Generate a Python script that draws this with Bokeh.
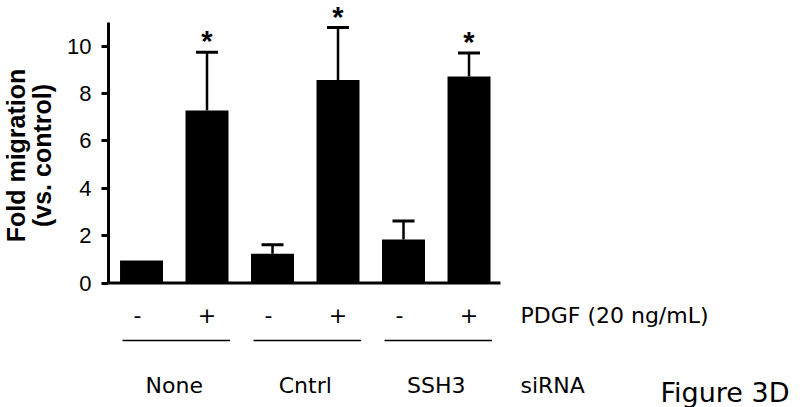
import math
from bokeh.plotting import figure
from bokeh.models import Range1d, FixedTicker
from bokeh.core.properties import value
from bokeh.embed import file_html
from bokeh.resources import INLINE

# ---- data ----
sirna_groups = ["None", "Cntrl", "SSH3"]
pdgf_labels = ["-", "+", "-", "+", "-", "+"]
fold_migration = [0.95, 7.28, 1.23, 8.57, 1.84, 8.71]
sem_upper = [0.0, 2.46, 0.38, 2.21, 0.78, 0.99]
significant = [False, True, False, True, False, True]
y_ticks = [0, 2, 4, 6, 8, 10]
y_title = ["Fold migration", "(vs. control)"]
pdgf_title = "PDGF (20 ng/mL)"
sirna_title = "siRNA"
figure_tag = "Figure 3D"

xs = list(range(len(fold_migration)))
err_top = [v + e for v, e in zip(fold_migration, sem_upper)]

x_start, x_end = -0.504, 10.061
p = figure(width=800, height=407, output_backend="svg", toolbar_location=None,
           x_range=Range1d(x_start, x_end), y_range=Range1d(-5.253, 11.920),
           x_axis_location=None, min_border=0, min_border_left=108)
p.outline_line_color = None
p.grid.visible = False
p.background_fill_color = "white"
p.border_fill_color = "white"

ax = p.yaxis[0]
ax.ticker = FixedTicker(ticks=y_ticks)
ax.bounds = (0, 11)
ax.axis_line_width = 3
ax.axis_line_color = "black"
ax.major_tick_line_width = 3
ax.major_tick_line_color = "black"
ax.major_tick_out = 7
ax.major_tick_in = 0
ax.minor_tick_out = 0
ax.minor_tick_in = 0
ax.major_label_text_font = "Liberation Sans"
ax.major_label_text_font_size = "22px"
ax.major_label_text_color = "black"
ax.major_label_standoff = 10

# y-axis title (two rotated lines, drawn unclipped)
yt = p.text(x=[x_start - 1.419, x_start - 1.022], y=[5.38, 5.38], text=y_title,
            angle=math.pi / 2, text_font=value("Liberation Sans"), text_font_style="bold",
            text_font_size="25px", text_align="center", text_baseline="alphabetic",
            text_color="black")
yt.level = "overlay"

# x baseline
p.segment(x0=[x_start], y0=[0], x1=[xs[-1] + 0.48], y1=[0], line_width=3, line_color="black")

# bars
p.vbar(x=xs, top=fold_migration, bottom=0, width=0.656, fill_color="black", line_color=None)

# error bars (upper only)
ex = [x for x, e in zip(xs, sem_upper) if e > 0]
eb = [v for v, e in zip(fold_migration, sem_upper) if e > 0]
et = [t for t, e in zip(err_top, sem_upper) if e > 0]
p.segment(x0=ex, y0=eb, x1=ex, y1=et, line_width=2.5, line_color="black")
p.segment(x0=[x - 0.168 for x in ex], y0=et, x1=[x + 0.168 for x in ex], y1=et,
          line_width=3, line_color="black")

# significance stars
sx = [x for x, s in zip(xs, significant) if s]
sy = [t for t, s in zip(err_top, significant) if s]
st = p.text(x=sx, y=sy, text=["*"] * len(sx), text_font=value("Liberation Sans"),
            text_font_style="bold", text_font_size="29px", text_align="center",
            text_baseline="alphabetic", y_offset=-11, text_color="black")
st.level = "overlay"

lab_font = value("DejaVu Sans")
row1_y = -1.371
row2_y = -4.325
# PDGF -/+ row
p.text(x=xs, y=[row1_y] * len(xs), text=pdgf_labels, text_font=lab_font,
       x_offset=[-4 if s == "-" else 0 for s in pdgf_labels],
       text_font_size="22px", text_align="center", text_baseline="alphabetic", text_color="black")
label_x = xs[-1] + 0.786
p.text(x=[label_x], y=[row1_y], text=[pdgf_title], text_font=lab_font,
       text_font_size="22px", text_align="left", text_baseline="alphabetic", text_color="black")

# group underlines and labels
gc = [(xs[2 * i] + xs[2 * i + 1]) / 2 for i in range(len(sirna_groups))]
p.segment(x0=[c - 0.79 for c in gc], y0=[-2.426] * len(gc), x1=[c + 0.85 for c in gc],
          y1=[-2.426] * len(gc), line_width=1.5, line_color="black")
p.text(x=gc, y=[row2_y] * len(gc), text=sirna_groups, text_font=lab_font,
       text_font_size="22px", text_align="center", text_baseline="alphabetic", text_color="black")
p.text(x=[label_x], y=[row2_y], text=[sirna_title], text_font=lab_font,
       text_font_size="22px", text_align="left", text_baseline="alphabetic", text_color="black")

ft = p.text(x=[xs[-1] + 2.923], y=[-4.60], text=[figure_tag], text_font=lab_font,
            text_font_size="27px", text_align="left", text_baseline="alphabetic", text_color="black")
ft.level = "overlay"

open("out.html", "w").write(file_html(p, INLINE))
